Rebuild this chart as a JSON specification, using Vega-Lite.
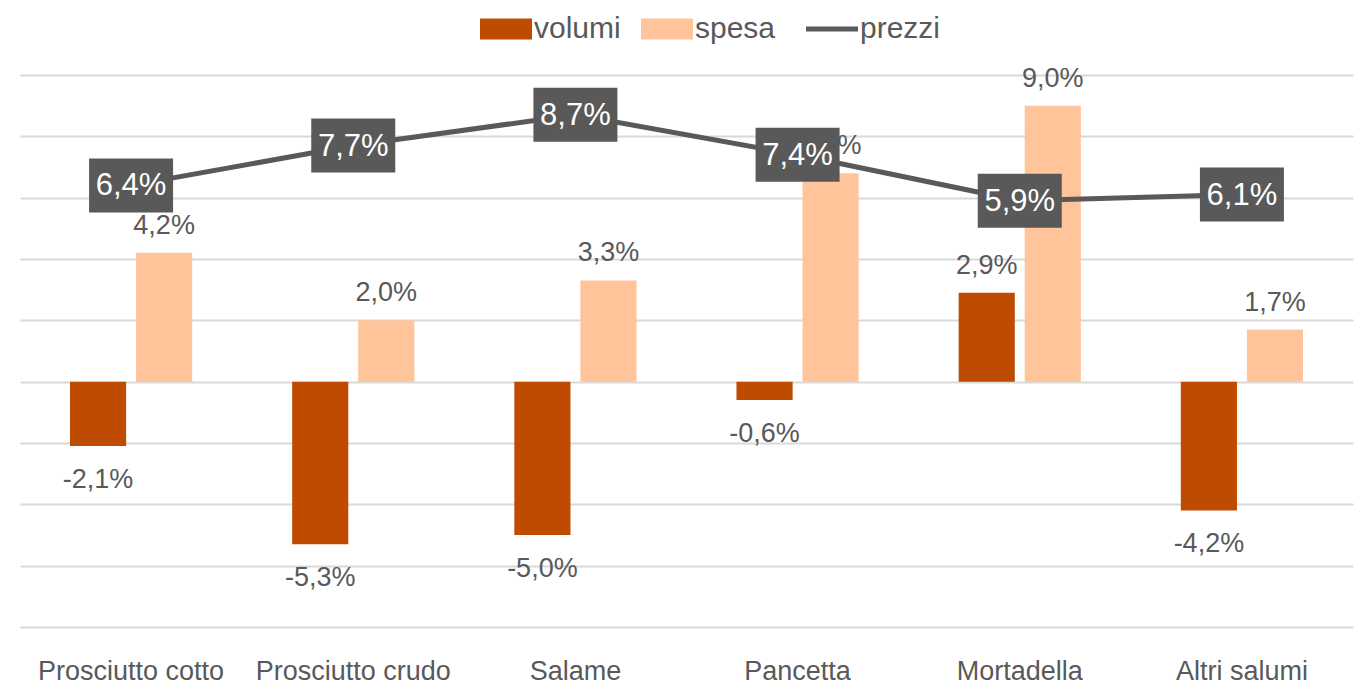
{
  "$schema": "https://vega.github.io/schema/vega-lite/v6.json",
  "width": 1333,
  "height": 552,
  "autosize": "none",
  "padding": {"left": 20, "top": 75, "right": 4, "bottom": 66},
  "background": "white",
  "config": {
    "locale": {"number": {"decimal": ",", "thousands": ".", "grouping": [3], "currency": ["€", ""], "minus": "-"}},
    "view": {"stroke": null},
    "font": "Liberation Sans",
    "text": {"font": "Liberation Sans"}
  },
  "data": {
    "values": [
      {"cat": "Prosciutto cotto", "serie": "volumi", "v": -0.021},
      {"cat": "Prosciutto cotto", "serie": "spesa", "v": 0.042},
      {"cat": "Prosciutto cotto", "serie": "prezzi", "v": 0.064},
      {"cat": "Prosciutto crudo", "serie": "volumi", "v": -0.053},
      {"cat": "Prosciutto crudo", "serie": "spesa", "v": 0.020},
      {"cat": "Prosciutto crudo", "serie": "prezzi", "v": 0.077},
      {"cat": "Salame", "serie": "volumi", "v": -0.050},
      {"cat": "Salame", "serie": "spesa", "v": 0.033},
      {"cat": "Salame", "serie": "prezzi", "v": 0.087},
      {"cat": "Pancetta", "serie": "volumi", "v": -0.006},
      {"cat": "Pancetta", "serie": "spesa", "v": 0.068},
      {"cat": "Pancetta", "serie": "prezzi", "v": 0.074},
      {"cat": "Mortadella", "serie": "volumi", "v": 0.029},
      {"cat": "Mortadella", "serie": "spesa", "v": 0.090},
      {"cat": "Mortadella", "serie": "prezzi", "v": 0.059},
      {"cat": "Altri salumi", "serie": "volumi", "v": -0.042},
      {"cat": "Altri salumi", "serie": "spesa", "v": 0.017},
      {"cat": "Altri salumi", "serie": "prezzi", "v": 0.061}
    ]
  },
  "encoding": {
    "x": {
      "field": "cat",
      "type": "nominal",
      "sort": ["Prosciutto cotto", "Prosciutto crudo", "Salame", "Pancetta", "Mortadella", "Altri salumi"],
      "scale": {"paddingInner": 0.45, "paddingOuter": 0.225},
      "axis": {
        "title": null,
        "labelAngle": 0,
        "labelFontSize": 27,
        "labelColor": "#595959",
        "labelFont": "Liberation Sans",
        "labelPadding": 31,
        "labelLimit": 0,
        "ticks": false,
        "domain": false,
        "grid": false
      }
    },
    "y": {
      "field": "v",
      "type": "quantitative",
      "scale": {"domain": [-0.08, 0.10], "nice": false, "zero": false},
      "axis": {
        "title": null,
        "labels": false,
        "ticks": false,
        "domain": false,
        "grid": true,
        "gridColor": "#D9D9D9",
        "gridWidth": 2,
        "values": [-0.08, -0.06, -0.04, -0.02, 0, 0.02, 0.04, 0.06, 0.08, 0.10]
      }
    }
  },
  "layer": [
    {
      "transform": [{"filter": "datum.serie !== 'prezzi'"}],
      "mark": {"type": "bar"},
      "encoding": {
        "xOffset": {"field": "serie", "type": "nominal", "sort": ["volumi", "spesa"], "scale": {"paddingInner": 0.15, "paddingOuter": 0}},
        "color": {
          "field": "serie",
          "type": "nominal",
          "scale": {"domain": ["volumi", "spesa", "prezzi"], "range": ["#BE4B00", "#FFC499", "#595959"]},
          "legend": {
            "title": null,
            "orient": "none",
            "legendX": 471,
            "legendY": -61,
            "direction": "horizontal",
            "labelFontSize": 30,
            "labelColor": "#595959",
            "labelFont": "Liberation Sans",
            "labelOffset": 13,
            "columnPadding": 20,
            "symbolSize": 2704,
            "symbolStrokeWidth": 0,
            "symbolOpacity": 1,
            "encode": {
              "symbols": {
                "update": {
                  "shape": {"signal": "datum.value === 'prezzi' ? 'M-1,0L1,0' : 'M-1,-0.4L1,-0.4L1,0.4L-1,0.4Z'"},
                  "stroke": {"scale": "color", "field": "value"},
                  "strokeWidth": {"signal": "datum.value === 'prezzi' ? 5 : 0"}
                }
              }
            }
          }
        }
      }
    },
    {
      "transform": [{"filter": "datum.serie !== 'prezzi' && datum.v >= 0"}],
      "mark": {"type": "text", "baseline": "alphabetic", "dy": -19, "fontSize": 27, "color": "#595959"},
      "encoding": {
        "xOffset": {"field": "serie", "type": "nominal", "sort": ["volumi", "spesa"]},
        "text": {"field": "v", "type": "quantitative", "format": ".1%"}
      }
    },
    {
      "transform": [{"filter": "datum.serie !== 'prezzi' && datum.v < 0"}],
      "mark": {"type": "text", "baseline": "alphabetic", "dy": 42, "fontSize": 27, "color": "#595959"},
      "encoding": {
        "xOffset": {"field": "serie", "type": "nominal", "sort": ["volumi", "spesa"]},
        "text": {"field": "v", "type": "quantitative", "format": ".1%"}
      }
    },
    {
      "transform": [{"filter": "datum.serie === 'prezzi'"}],
      "mark": {"type": "line", "color": "#595959", "strokeWidth": 5},
      "encoding": {}
    },
    {
      "transform": [{"filter": "datum.serie === 'prezzi'"}],
      "mark": {"type": "point", "shape": "M-1,-0.643L1,-0.643L1,0.643L-1,0.643Z", "size": 7056, "filled": true, "color": "#595959", "opacity": 1, "strokeWidth": 0},
      "encoding": {}
    },
    {
      "transform": [{"filter": "datum.serie === 'prezzi'"}],
      "mark": {"type": "text", "baseline": "middle", "dy": 1, "fontSize": 31, "color": "white"},
      "encoding": {
        "text": {"field": "v", "type": "quantitative", "format": ".1%"}
      }
    }
  ]
}
